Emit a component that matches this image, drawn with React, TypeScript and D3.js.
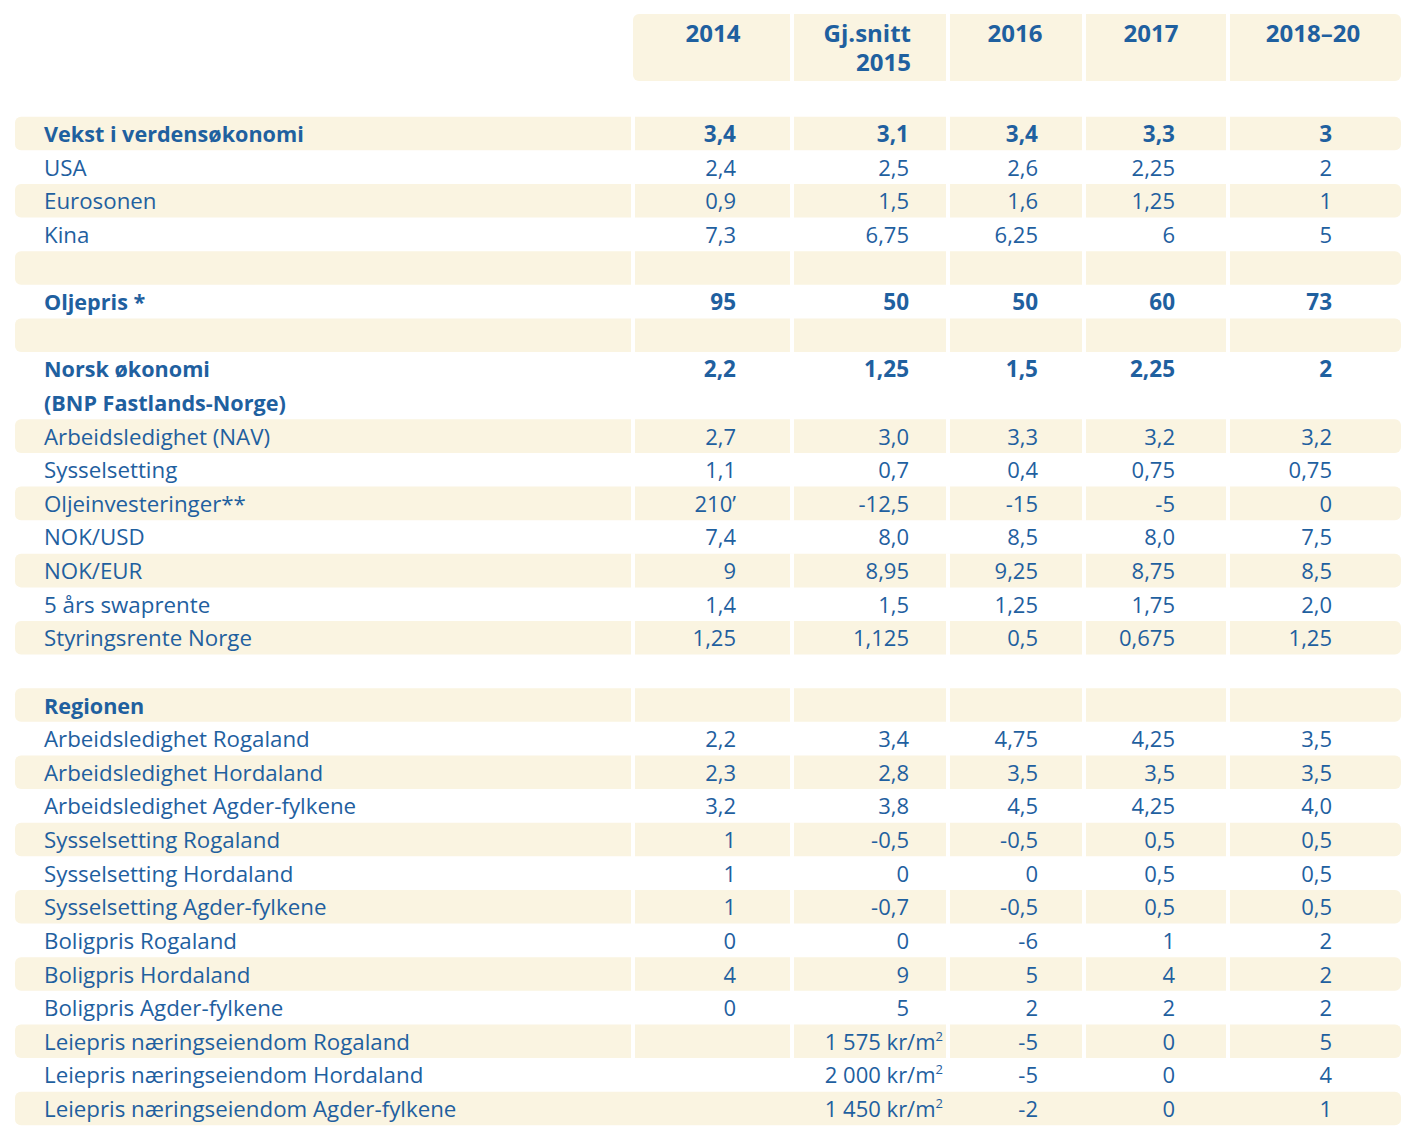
import React from "react";
import * as d3 from "d3";

// ---------- data ----------
const headers = ["2014", "Gj.snitt\n2015", "2016", "2017", "2018–20"];

const rowLabels = [
  "Vekst i verdensøkonomi", "USA", "Eurosonen", "Kina", "", "Oljepris *", "",
  "Norsk økonomi", "(BNP Fastlands-Norge)", "Arbeidsledighet (NAV)", "Sysselsetting",
  "Oljeinvesteringer**", "NOK/USD", "NOK/EUR", "5 års swaprente", "Styringsrente Norge", "",
  "Regionen", "Arbeidsledighet Rogaland", "Arbeidsledighet Hordaland", "Arbeidsledighet Agder-fylkene",
  "Sysselsetting Rogaland", "Sysselsetting Hordaland", "Sysselsetting Agder-fylkene",
  "Boligpris Rogaland", "Boligpris Hordaland", "Boligpris Agder-fylkene",
  "Leiepris næringseiendom Rogaland", "Leiepris næringseiendom Hordaland", "Leiepris næringseiendom Agder-fylkene",
];

const values2014 = [
  "3,4", "2,4", "0,9", "7,3", "", "95", "", "2,2", "", "2,7", "1,1", "210’", "7,4", "9", "1,4", "1,25", "",
  "", "2,2", "2,3", "3,2", "1", "1", "1", "0", "4", "0", "", "", "",
];
const valuesAvg2015 = [
  "3,1", "2,5", "1,5", "6,75", "", "50", "", "1,25", "", "3,0", "0,7", "-12,5", "8,0", "8,95", "1,5", "1,125", "",
  "", "3,4", "2,8", "3,8", "-0,5", "0", "-0,7", "0", "9", "5", "1 575 kr/m²", "2 000 kr/m²", "1 450 kr/m²",
];
const values2016 = [
  "3,4", "2,6", "1,6", "6,25", "", "50", "", "1,5", "", "3,3", "0,4", "-15", "8,5", "9,25", "1,25", "0,5", "",
  "", "4,75", "3,5", "4,5", "-0,5", "0", "-0,5", "-6", "5", "2", "-5", "-5", "-2",
];
const values2017 = [
  "3,3", "2,25", "1,25", "6", "", "60", "", "2,25", "", "3,2", "0,75", "-5", "8,0", "8,75", "1,75", "0,675", "",
  "", "4,25", "3,5", "4,25", "0,5", "0,5", "0,5", "1", "4", "2", "0", "0", "0",
];
const values2018_20 = [
  "3", "2", "1", "5", "", "73", "", "2", "", "3,2", "0,75", "0", "7,5", "8,5", "2,0", "1,25", "",
  "", "3,5", "3,5", "4,0", "0,5", "0,5", "0,5", "2", "2", "2", "5", "4", "1",
];

const boldRows = [0, 5, 7, 8, 17];
const shadedRows = [0, 2, 4, 6, 9, 11, 13, 15, 17, 19, 21, 23, 25, 27, 29];
const continuousRows = [29];

const columns = [values2014, valuesAvg2015, values2016, values2017, values2018_20];

// ---------- layout ----------
const W = 1414;
const H = 1139;
const BLUE = "#1f609f";
const BEIGE = "#faf4e1";
const FONT = "'Open Sans', Lato, sans-serif";

const tableLeft = 15;
const tableRight = 1401;
const colEdges = [635, 794, 950, 1086, 1230]; // left edge of each value column
const gap = 4;
const valueAnchors = [736, 909, 1038, 1175, 1332];
const unitAnchor = 943;
const headerX = [713, 911, 1015, 1151, 1313];
const headerAnchor = ["middle", "end", "middle", "middle", "middle"];
const labelX = 44;

const y = d3.scaleLinear().domain([0, 1]).range([116.7, 116.7 + 33.62]);
const rowH = y(1) - y(0);

function Superscripted({ text }: { text: string }) {
  if (text.endsWith("²")) {
    return (
      <>
        {text.slice(0, -1)}
        <tspan dy={-9} fontSize={13}>2</tspan>
      </>
    );
  }
  return <>{text}</>;
}

export default function App() {
  const gapXs = colEdges.map((e) => e - gap);
  return (
    <svg width={W} height={H} style={{ display: "block", position: "absolute", left: 0, top: 0 }} fontFamily={FONT}>
      <rect x={0} y={0} width={W} height={H} fill="#fff" />
      {/* header */}
      <g>
        <rect x={colEdges[0] - 2} y={14} width={tableRight - colEdges[0] + 2} height={67} rx={6} fill={BEIGE} />
        {gapXs.slice(1).map((gx, i) => (
          <rect key={i} x={gx} y={14} width={gap} height={67} fill="#fff" />
        ))}
        {headers.map((h, i) => {
          const lines = h.split("\n");
          return (
            <text key={i} fill={BLUE} fontWeight={700} fontSize={24} textAnchor={headerAnchor[i]}>
              {lines.map((ln, j) => (
                <tspan key={j} x={headerX[i]} y={41.8 + j * 29}>
                  {ln}
                </tspan>
              ))}
            </text>
          );
        })}
      </g>
      {/* bands */}
      <g>
        {shadedRows.map((r) => (
          <g key={r}>
            <rect x={tableLeft} y={y(r)} width={tableRight - tableLeft} height={rowH} rx={6} fill={BEIGE} />
            {!continuousRows.includes(r) &&
              gapXs.map((gx, i) => <rect key={i} x={gx} y={y(r) - 0.5} width={gap} height={rowH + 1} fill="#fff" />)}
          </g>
        ))}
      </g>
      {/* text */}
      <g fill={BLUE}>
        {rowLabels.map((lab, r) => {
          const bold = boldRows.includes(r);
          const base = y(r) + rowH / 2 + 8.5;
          return (
            <g key={r} fontWeight={bold ? 700 : 400}>
              {lab && (
                <text x={labelX} y={base} fontSize={bold ? 21.6 : 22.3}>
                  {lab}
                </text>
              )}
              {columns.map((col, c) => {
                const v = col[r];
                if (!v) return null;
                const unit = v.includes("kr/m");
                return (
                  <text
                    key={c}
                    x={unit ? unitAnchor : valueAnchors[c]}
                    y={base}
                    textAnchor="end"
                    fontSize={bold ? 22.5 : 22}
                  >
                    <Superscripted text={v} />
                  </text>
                );
              })}
            </g>
          );
        })}
      </g>
    </svg>
  );
}
